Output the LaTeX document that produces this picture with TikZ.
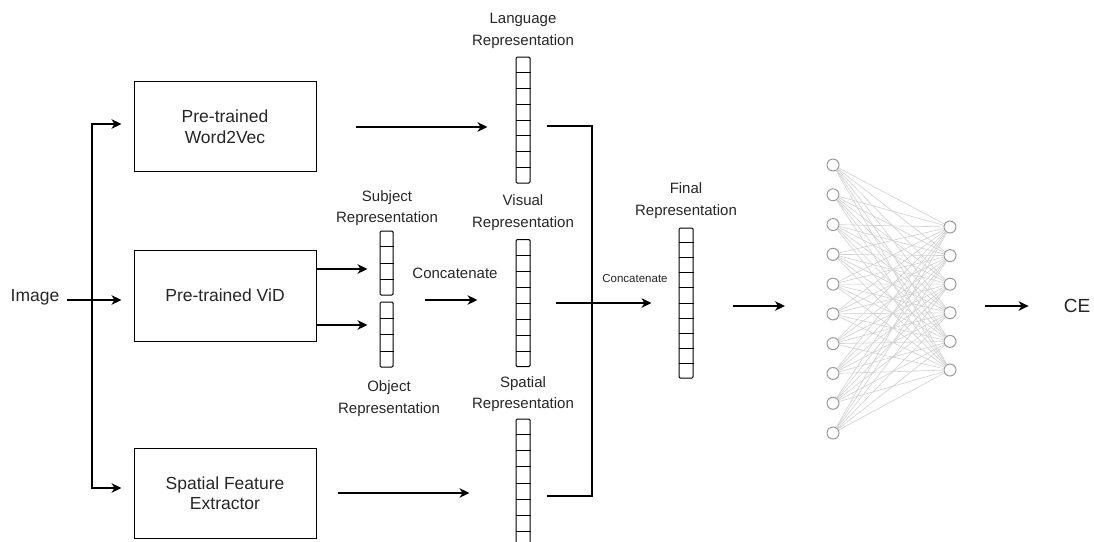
\documentclass[tikz,border=0pt]{standalone}
\usepackage{fontspec}
\setmainfont{Liberation Sans}
\usetikzlibrary{arrows.meta,calc}

\definecolor{txt}{HTML}{262626}
\definecolor{nodegray}{HTML}{9A9A9A}
\definecolor{edgegray}{HTML}{D0D0D0}

% horizontal rules that split a vector node into cells: node, cells, cells-1
\newcommand\cellrules[3]{%
  \foreach \k in {1,...,#3}
    \draw[cellrule] ($(#1.north west)!{\k/#2}!(#1.south west)$) -- ($(#1.north east)!{\k/#2}!(#1.south east)$);}

\begin{document}
\begin{tikzpicture}[x=1pt,y=-1pt,
  stage/.style={draw, line width=1pt, minimum width=182pt, minimum height=90pt,
    inner sep=0pt, align=center, text=txt, font=\fontsize{17.5}{20.5}\selectfont},
  vecbox/.style={draw, line width=1pt, rounded corners=1.2pt, minimum width=14pt, inner sep=0pt},
  cellrule/.style={line width=0.9pt},
  lbl/.style={align=center, inner sep=1pt, text=txt, font=\fontsize{15}{21.5}\selectfont},
  arr/.style={line width=1.3pt, -{Stealth[length=10pt,width=9.5pt,inset=3pt]}},
  wire/.style={line width=1.3pt},
  neuron/.style={circle, draw=nodegray, line width=1pt, fill=white, minimum size=12pt, inner sep=0pt},
  synapse/.style={draw=edgegray, line width=0.6pt}
]
\useasboundingbox (0,0) rectangle (1094,541);

% input and the three feature extractors
\node[lbl, font=\fontsize{17.5}{20.5}\selectfont] (img) at (35,297) {Image};
\node[stage] (w2v) at (225,126.5) {Pre-trained\\Word2Vec};
\node[stage, minimum height=91pt] (vid) at (225,295.5) {Pre-trained ViD};
\node[stage] (sfe) at (225,493) {Spatial Feature\\Extractor};

\coordinate (fork) at (92,300);
\draw[arr, shorten <=6pt, shorten >=12pt] (fork -| img.east) -- (fork -| vid.west);
\draw[arr, shorten >=12pt] (fork) |- ([yshift=2.5pt]w2v.west);
\draw[arr, shorten >=12pt] (fork) |- ([yshift=5pt]sfe.west);

% representation vectors
\node[vecbox, minimum height=126pt] (lang) at (523,120) {};
\cellrules{lang}{8}{7}
\node[vecbox, minimum width=13pt, minimum height=64pt] (subj) at (386.5,263) {};
\cellrules{subj}{4}{3}
\node[vecbox, minimum width=13pt, minimum height=65pt] (obj) at (386.5,334.5) {};
\cellrules{obj}{4}{3}
\node[vecbox, minimum height=127pt] (vis) at (523,303) {};
\cellrules{vis}{8}{7}
\node[vecbox, minimum height=128pt] (spat) at (523,483) {};
\cellrules{spat}{8}{7}
\node[vecbox, minimum height=150pt] (fin) at (686,303) {};
\cellrules{fin}{10}{9}

% labels
\node[lbl] (langl) at (523,31) {Language\\Representation};
\node[lbl] (subjl) at (387,208) {Subject\\Representation};
\node[lbl] (objl) at (389,398.5) {Object\\Representation};
\node[lbl] (visl) at (523,212.5) {Visual\\Representation};
\node[lbl] (spatl) at (523,394) {Spatial\\Representation};
\node[lbl] (finl) at (686,200.5) {Final\\Representation};
\node[lbl] (cat1) at (455,273) {Concatenate};
\node[lbl, font=\fontsize{11.5}{13}\selectfont] (cat2) at (635,279) {Concatenate};

% extractor outputs
\draw[arr, shorten <=39pt, shorten >=28pt] ([yshift=-0.5pt]w2v.east) -- ([yshift=-0.5pt]w2v.east -| lang.west);
\draw[arr, shorten >=12pt] ([yshift=26.5pt]vid.east) -- ([yshift=26.5pt]vid.east -| subj.west);
\draw[arr, shorten >=12pt] ([yshift=-29.5pt]vid.east) -- ([yshift=-29.5pt]vid.east -| obj.west);
\draw[arr, shorten <=21pt, shorten >=46pt] (sfe.east) -- (sfe.east -| spat.west);

% subject + object concatenation
\coordinate (gap) at ($(subj.south)!0.5!(obj.north)+(0,1.5)$);
\draw[arr, shorten <=38.5pt, shorten >=38pt] (gap) -- (gap -| vis.west);

% language / spatial bracket and the second concatenation
\coordinate (bt) at (547,126);
\coordinate (bb) at (547,496);
\draw[wire] (bt) -- ++(45,0) |- (bb);
\draw[arr, shorten <=25pt, shorten >=27pt] (vis.east) -- (fin.west);

% classifier network
\foreach \i in {0,...,9}
  \node[neuron] (L\i) at (833,{165+\i*29.78}) {};
\foreach \j in {0,...,5}
  \node[neuron] (R\j) at (950,{227+\j*28.6}) {};
\foreach \i in {0,...,9}
  \foreach \j in {0,...,5}
    \draw[synapse] (L\i) -- (R\j);

\coordinate (nnin) at (785,306);
\draw[arr, shorten <=39pt] (fin.east |- nnin) -- (nnin);

\node[lbl, font=\fontsize{19}{22}\selectfont] (ce) at (1077,306) {CE};
\coordinate (nnout) at (985,306);
\draw[arr, shorten >=34pt] (nnout) -- (nnout -| ce.west);
\end{tikzpicture}
\end{document}
